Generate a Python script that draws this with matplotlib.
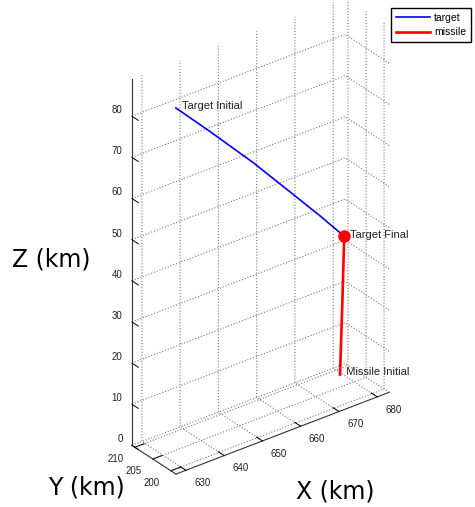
import numpy as np
import matplotlib
matplotlib.use("Agg")
import matplotlib.pyplot as plt
from matplotlib.transforms import offset_copy
from mpl_toolkits.mplot3d import proj3d

# ---------------- data (km) ----------------
target_x = [633.4, 642.3, 653.6, 664.0, 671.1, 677.4]
target_y = [205.0, 205.0, 205.0, 205.0, 205.0, 205.0]
target_z = [83.2, 74.3, 62.7, 51.3, 43.5, 36.3]

missile_x = [676.3, 676.9, 677.4]
missile_y = [205.0, 205.0, 205.0]
missile_z = [3.1, 20.0, 36.3]

x_ticks = [630, 640, 650, 660, 670, 680]
y_ticks = [200, 205, 210]
z_ticks = [0, 10, 20, 30, 40, 50, 60, 70, 80]
x_lim = (627.4, 683.1)
y_lim = (198.6, 210.8)
z_lim = (0, 89)

# ---------------- style ----------------
plt.rcParams['font.family'] = ['Liberation Sans', 'DejaVu Sans']
plt.rcParams['grid.linestyle'] = ':'
plt.rcParams['grid.color'] = '#7a7a7a'
plt.rcParams['grid.linewidth'] = 0.8
TXT = '#222222'

W, H = 475, 507
fig = plt.figure(figsize=(W / 100, H / 100), dpi=100)
ax = fig.add_axes([0.1, 0.1, 0.8, 0.8], projection='3d', proj_type='ortho')
ax.view_init(elev=30, azim=-127.5)
ax.set_box_aspect((268.5, 72.3, 422.6))

ax.plot(target_x, target_y, target_z, color='#0000ff', lw=1.2, label='target')
ax.plot(missile_x, missile_y, missile_z, color='#ff0000', lw=1.9, label='missile')
ax.plot([target_x[-1]], [target_y[-1]], [target_z[-1]], 'o', color='#ff0000',
        markersize=8, zorder=10)

ax.set_xlim(*x_lim)
ax.set_ylim(*y_lim)
ax.set_zlim(*z_lim)
ax.set_xticks(x_ticks, labels=[''] * len(x_ticks))
ax.set_yticks(y_ticks, labels=[''] * len(y_ticks))
ax.set_zticks(z_ticks, labels=[''] * len(z_ticks))
for a in (ax.xaxis, ax.yaxis, ax.zaxis):
    a.set_pane_color((1, 1, 1, 0))
    a.pane.set_edgecolor('none')
    a.line.set_color('#333333')
    a.line.set_linewidth(0.8)
    a._axinfo['tick']['inward_factor'] = 0.0
    a._axinfo['tick']['linewidth'] = {True: 0.7, False: 0.5}
    a._axinfo['tick']['color'] = '#333333'
ax.xaxis._axinfo['tick']['outward_factor'] = 1.7
ax.yaxis._axinfo['tick']['outward_factor'] = 0.54
ax.zaxis._axinfo['tick']['outward_factor'] = -1.8
ax.zaxis._get_tickdir = lambda position=None: 1   # z ticks point along y, as in MATLAB

# ---------- fit axes placement so the box lands where the reference has it ----------
fig.canvas.draw()
corners = np.array([[x_lim[0], y_lim[0], z_lim[0]],
                    [x_lim[1], y_lim[0], z_lim[0]],
                    [x_lim[0], y_lim[1], z_lim[0]],
                    [x_lim[0], y_lim[1], z_lim[1]]])
goal = np.array([[176, 474], [389, 393], [132, 445], [132, 79]], dtype=float)
goal[:, 1] = H - goal[:, 1]
M = ax.get_proj()
xs, ys, _ = proj3d.proj_transform(corners[:, 0], corners[:, 1], corners[:, 2], M)
P = ax.transData.transform(np.column_stack([xs, ys]))
pos = ax.get_position()
cx, cy = (pos.x0 + pos.x1) / 2 * W, (pos.y0 + pos.y1) / 2 * H
side = pos.width * W
q = (P - [cx, cy]) / side
qm, gm = q.mean(0), goal.mean(0)
L = np.sum((goal - gm) * (q - qm)) / np.sum((q - qm) ** 2)
C = gm - L * qm
ax.set_position([(C[0] - L / 2) / W, (C[1] - L / 2) / H, L / W, L / H])


def put(x, y, z, s, dy=0.0, **kw):
    """2D text anchored at the projection of a 3D data point (dy in points)."""
    px, py, _ = proj3d.proj_transform(np.array([x]), np.array([y]), np.array([z]), M)
    tr = offset_copy(ax.transData, fig=fig, x=0, y=dy, units='points')
    ax.text2D(px[0], py[0], s, transform=tr, color=TXT, clip_on=False, **kw)


# point annotations
put(target_x[0], target_y[0], target_z[0], '  Target Initial', dy=1.5, fontsize=8,
    va='center', ha='left')
put(target_x[-1], target_y[-1], target_z[-1], '  Target Final', dy=1.2, fontsize=8,
    va='center', ha='left')
put(missile_x[0], missile_y[0], missile_z[0], '  Missile Initial', dy=1.5, fontsize=8,
    va='center', ha='left')

# tick labels (placed like MATLAB's)
for xv in x_ticks:
    put(xv, y_lim[0] - 4.5, z_lim[0] - 0.5, str(xv), fontsize=7, ha='center', va='center')
for yv in y_ticks:
    put(x_lim[0] - 5.0, yv, z_lim[0] - 1.15, str(yv), fontsize=7, ha='center', va='center')
for zv in z_ticks:
    put(x_lim[0], y_lim[1] + 2.6, zv, str(zv), fontsize=7, ha='right', va='center')

fig.legend(loc='upper right', bbox_to_anchor=(471 / W, 1 - 8 / H), fontsize=7.5,
           fancybox=False, edgecolor='black', framealpha=1, handlelength=3.3,
           borderpad=0.45, labelspacing=0.45, handletextpad=0.4, borderaxespad=0)

fig.text(12 / W, 1 - 260 / H, 'Z (km)', fontsize=17, family='DejaVu Sans',
         va='center', ha='left')
fig.text(48 / W, 1 - 487 / H, 'Y (km)', fontsize=17, family='DejaVu Sans',
         va='center', ha='left')
fig.text(296 / W, 1 - 492 / H, 'X (km)', fontsize=17, family='DejaVu Sans',
         va='center', ha='left')

fig.savefig('out.png', dpi=100)
